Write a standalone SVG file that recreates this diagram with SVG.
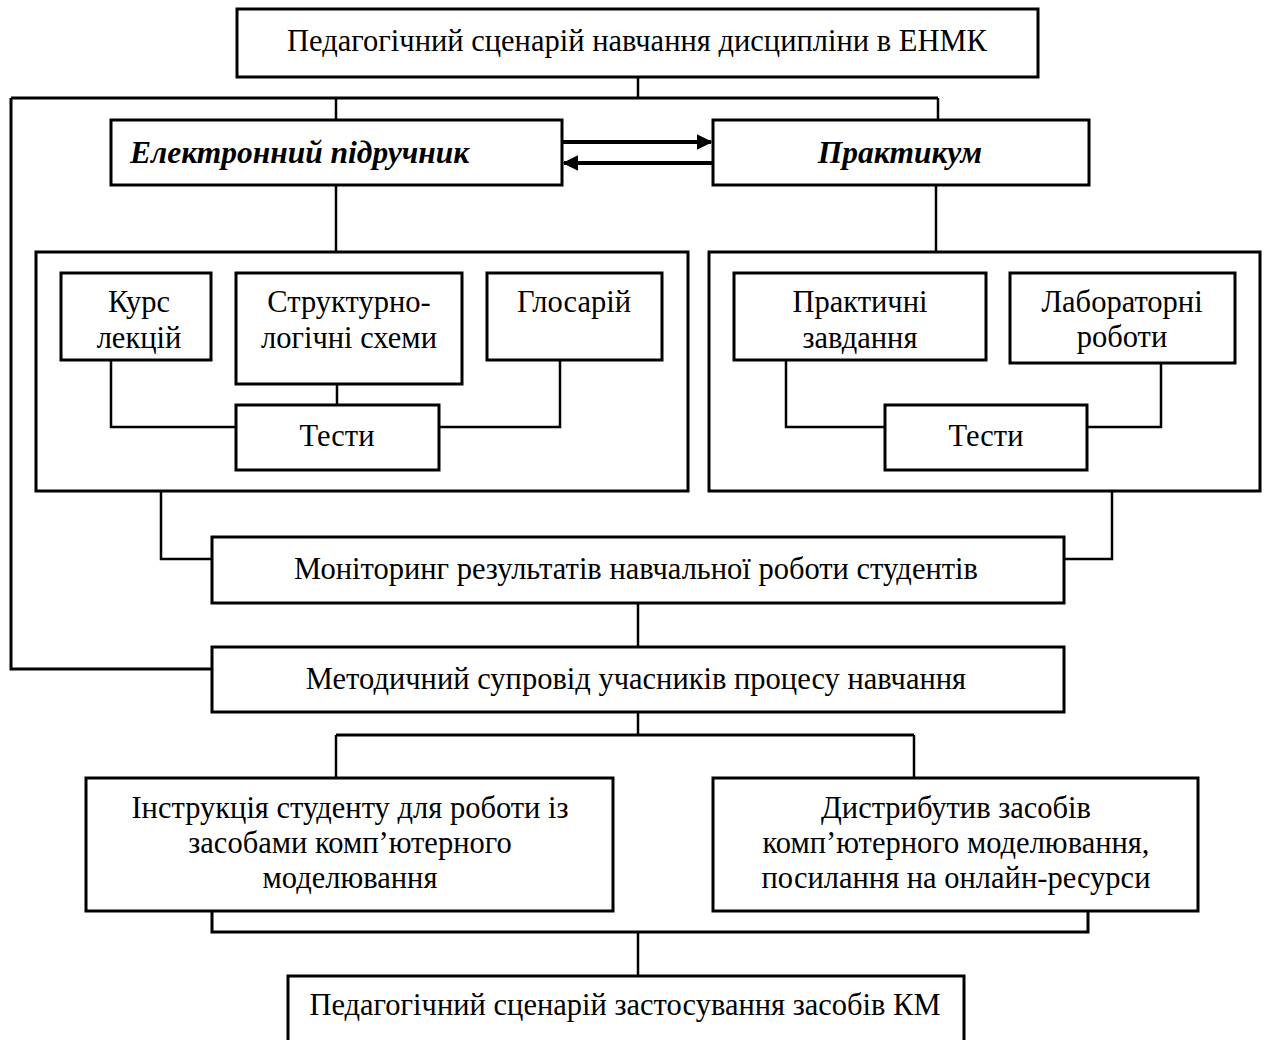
<svg xmlns="http://www.w3.org/2000/svg" width="1264" height="1040" viewBox="0 0 1264 1040">
<style>
  .box { fill: #fff; stroke: #000; stroke-width: 3; }
  .frame { fill: none; stroke: #000; stroke-width: 3; }
  .t { font-family: "Liberation Serif", "Times New Roman", serif; font-size: 30.5px; fill: #000; text-anchor: middle; }
  .bi { font-weight: bold; font-style: italic; font-size: 31.5px; }
  .c { fill: none; stroke: #000; stroke-width: 2.5; }
  .a { fill: none; stroke: #000; stroke-width: 4; }
</style>
<defs>
  <marker id="ah" viewBox="0 0 10 10" refX="9" refY="5" markerWidth="4" markerHeight="4" orient="auto" markerUnits="strokeWidth">
    <path d="M0,0 L10,5 L0,10 Z" fill="#000"/>
  </marker>
</defs>
<rect width="1264" height="1040" fill="#fff"/>
<g id="n-left-container">
  <rect class="frame" x="36" y="252" width="652" height="239"/>
</g>
<g id="n-right-container">
  <rect class="frame" x="709" y="252" width="551" height="239"/>
</g>
<g id="connectors">
  <path class="c" d="M638,77 V98"/>
  <path class="c" d="M11,98 H938" style="stroke-width:3"/>
  <path class="c" d="M11,98 V669 H212" style="stroke-width:3"/>
  <path class="c" d="M336,98 V120"/>
  <path class="c" d="M938,98 V120"/>
  <path class="a" d="M562,142 H711" marker-end="url(#ah)"/>
  <path class="a" d="M713,163 H564" marker-end="url(#ah)"/>
  <path class="c" d="M336,185 V252"/>
  <path class="c" d="M936,185 V252"/>
  <path class="c" d="M111,360 V427 H236"/>
  <path class="c" d="M337,384 V405"/>
  <path class="c" d="M560,360 V427 H439"/>
  <path class="c" d="M786,360 V427 H885"/>
  <path class="c" d="M1161,363 V427 H1087"/>
  <path class="c" d="M161,491 V559 H212"/>
  <path class="c" d="M1112,491 V559 H1064"/>
  <path class="c" d="M638,603 V647"/>
  <path class="c" d="M638,712 V735"/>
  <path class="c" d="M336,735 H914" style="stroke-width:3"/>
  <path class="c" d="M336,735 V778"/>
  <path class="c" d="M914,735 V778"/>
  <path class="c" d="M212,911 V932 H1088 V911" style="stroke-width:3"/>
  <path class="c" d="M638,932 V976"/>
</g>
<g id="n-top">
  <rect class="box" x="237" y="9" width="801" height="68"/>
  <text class="t" x="637" y="51">Педагогічний сценарій навчання дисципліни в ЕНМК</text>
</g>
<g id="n-textbook">
  <rect class="box" x="111" y="120" width="451" height="65"/>
  <text class="t bi" x="130" y="163" style="text-anchor:start">Електронний підручник</text>
</g>
<g id="n-practicum">
  <rect class="box" x="713" y="120" width="376" height="65"/>
  <text class="t bi" x="900" y="163">Практикум</text>
</g>
<g id="n-lectures">
  <rect class="box" x="61" y="273" width="150" height="87"/>
  <text class="t" x="139" y="312">Курс</text>
  <text class="t" x="139" y="348">лекцій</text>
</g>
<g id="n-schemes">
  <rect class="box" x="236" y="273" width="226" height="111"/>
  <text class="t" x="349" y="312">Структурно-</text>
  <text class="t" x="349" y="348">логічні схеми</text>
</g>
<g id="n-glossary">
  <rect class="box" x="487" y="273" width="175" height="87"/>
  <text class="t" x="574" y="312">Глосарій</text>
</g>
<g id="n-tests-left">
  <rect class="box" x="236" y="405" width="203" height="65"/>
  <text class="t" x="337" y="446">Тести</text>
</g>
<g id="n-practical">
  <rect class="box" x="734" y="273" width="252" height="87"/>
  <text class="t" x="860" y="312">Практичні</text>
  <text class="t" x="860" y="348">завдання</text>
</g>
<g id="n-labs">
  <rect class="box" x="1010" y="273" width="225" height="90"/>
  <text class="t" x="1122" y="312">Лабораторні</text>
  <text class="t" x="1122" y="347">роботи</text>
</g>
<g id="n-tests-right">
  <rect class="box" x="885" y="405" width="202" height="65"/>
  <text class="t" x="986" y="446">Тести</text>
</g>
<g id="n-monitoring">
  <rect class="box" x="212" y="537" width="852" height="66"/>
  <text class="t" x="636" y="579">Моніторинг результатів навчальної роботи студентів</text>
</g>
<g id="n-methodical">
  <rect class="box" x="212" y="647" width="852" height="65"/>
  <text class="t" x="636" y="689">Методичний супровід учасників процесу навчання</text>
</g>
<g id="n-instruction">
  <rect class="box" x="86" y="778" width="527" height="133"/>
  <text class="t" x="350" y="818">Інструкція студенту для роботи із</text>
  <text class="t" x="350" y="853">засобами комп’ютерного</text>
  <text class="t" x="350" y="888">моделювання</text>
</g>
<g id="n-distrib">
  <rect class="box" x="713" y="778" width="485" height="133"/>
  <text class="t" x="956" y="818">Дистрибутив засобів</text>
  <text class="t" x="956" y="853">комп’ютерного моделювання,</text>
  <text class="t" x="956" y="888">посилання на онлайн-ресурси</text>
</g>
<g id="n-bottom">
  <rect class="box" x="288" y="976" width="676" height="80"/>
  <text class="t" x="625" y="1015">Педагогічний сценарій застосування засобів КМ</text>
</g>
</svg>
